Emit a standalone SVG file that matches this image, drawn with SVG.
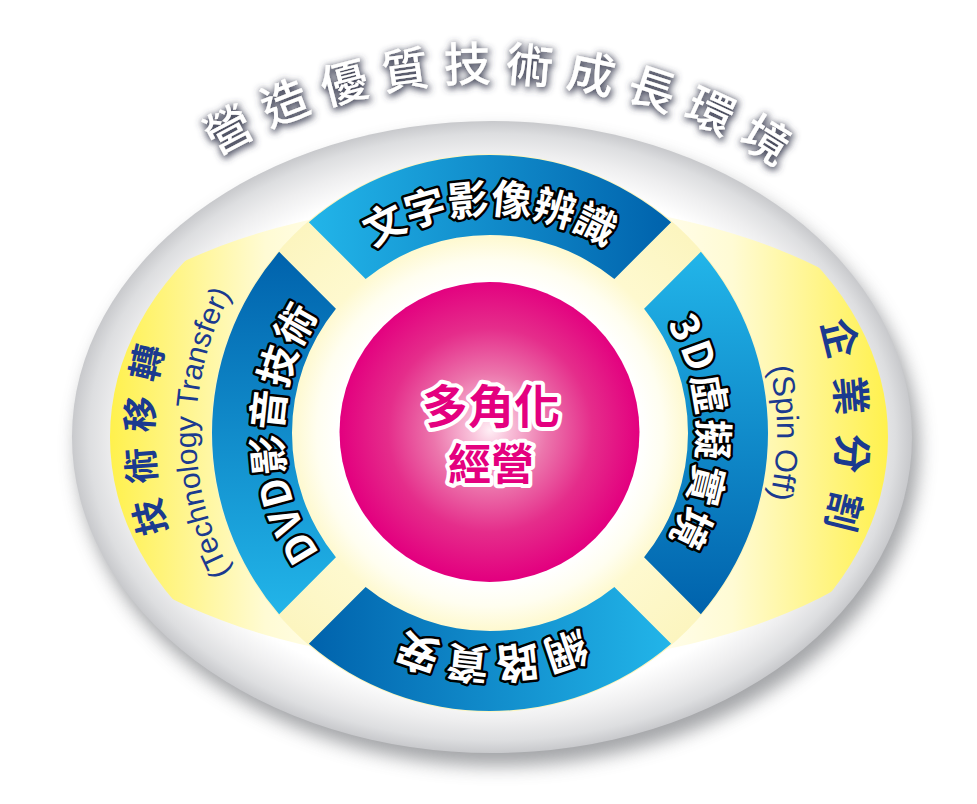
<svg xmlns="http://www.w3.org/2000/svg" width="977" height="804" viewBox="0 0 977 804">
<defs>
  <style>
    .seg { font-family: "Noto Sans CJK TC", "Liberation Sans", sans-serif; font-weight: 700; fill: #ffffff; stroke: #000000; stroke-width: 5; stroke-linejoin: round; paint-order: stroke; }
    .outer { font-family: "Noto Sans CJK TC", sans-serif; font-weight: 700; fill: #1b3a8f; }
    .eng { font-family: "Liberation Sans", Arial, sans-serif; fill: #1b3a8f; }
    .title { font-family: "Noto Sans CJK TC", sans-serif; font-weight: 500; fill: #ffffff; }
    .ctr { font-family: "Noto Sans CJK TC", sans-serif; font-weight: 700; fill: #e4007f; stroke: #ffffff; stroke-width: 8; stroke-linejoin: round; paint-order: stroke; }
  </style>
  <filter id="shadow" x="-10%" y="-10%" width="120%" height="120%">
    <feGaussianBlur stdDeviation="9"/>
  </filter>
  <filter id="tg" x="-10%" y="-40%" width="120%" height="180%">
    <feMorphology in="SourceAlpha" operator="dilate" radius="1" result="d"/>
    <feGaussianBlur in="d" stdDeviation="3.5" result="b"/>
    <feOffset in="b" dx="1" dy="2" result="o"/>
    <feFlood flood-color="#3f4256" flood-opacity="0.95"/>
    <feComposite in2="o" operator="in" result="s"/>
    <feMerge><feMergeNode in="s"/><feMergeNode in="SourceGraphic"/></feMerge>
  </filter>
  <radialGradient id="greyRing" cx="0.5" cy="0.5" r="0.5">
    <stop offset="0" stop-color="#ffffff"/>
    <stop offset="0.82" stop-color="#ffffff"/>
    <stop offset="0.9" stop-color="#eeeeef"/>
    <stop offset="0.96" stop-color="#dddee0"/>
    <stop offset="1" stop-color="#c8c9cc"/>
  </radialGradient>
  <linearGradient id="yel" gradientUnits="userSpaceOnUse" x1="110" y1="0" x2="888" y2="0">
    <stop offset="0" stop-color="#fff14d"/>
    <stop offset="0.09" stop-color="#fff58a"/>
    <stop offset="0.2" stop-color="#fffbd4"/>
    <stop offset="0.33" stop-color="#fffef4"/>
    <stop offset="0.5" stop-color="#ffffff"/>
    <stop offset="0.67" stop-color="#fffef4"/>
    <stop offset="0.8" stop-color="#fffbd4"/>
    <stop offset="0.91" stop-color="#fff58a"/>
    <stop offset="1" stop-color="#fff14d"/>
  </linearGradient>
  <clipPath id="lensClip"><ellipse cx="495" cy="433" rx="460" ry="233"/></clipPath>
  <radialGradient id="cream" gradientUnits="userSpaceOnUse" cx="490" cy="433" r="279">
    <stop offset="0" stop-color="#ffffff"/>
    <stop offset="0.54" stop-color="#ffffff"/>
    <stop offset="0.62" stop-color="#fffef0"/>
    <stop offset="0.71" stop-color="#fef9cf"/>
    <stop offset="1" stop-color="#fcf5bf"/>
  </radialGradient>
  <radialGradient id="mag" gradientUnits="userSpaceOnUse" cx="490" cy="430" r="150">
    <stop offset="0" stop-color="#fff0f6"/>
    <stop offset="0.12" stop-color="#f9c3db"/>
    <stop offset="0.38" stop-color="#ec75ac"/>
    <stop offset="0.68" stop-color="#e52d8b"/>
    <stop offset="1" stop-color="#e3007f"/>
  </radialGradient>
  <linearGradient id="gTop" gradientUnits="userSpaceOnUse" x1="309" y1="0" x2="671" y2="0">
    <stop offset="0" stop-color="#22b5e9"/><stop offset="1" stop-color="#0062ac"/>
  </linearGradient>
  <linearGradient id="gRight" gradientUnits="userSpaceOnUse" x1="0" y1="252" x2="0" y2="614">
    <stop offset="0" stop-color="#22b5e9"/><stop offset="1" stop-color="#0062ac"/>
  </linearGradient>
  <linearGradient id="gBottom" gradientUnits="userSpaceOnUse" x1="671" y1="0" x2="309" y2="0">
    <stop offset="0" stop-color="#22b5e9"/><stop offset="1" stop-color="#0062ac"/>
  </linearGradient>
  <linearGradient id="gLeft" gradientUnits="userSpaceOnUse" x1="0" y1="614" x2="0" y2="252">
    <stop offset="0" stop-color="#22b5e9"/><stop offset="1" stop-color="#0062ac"/>
  </linearGradient>
  <path id="pTitle" d="M -40 609 A 528 528 0 0 1 1016 609"/>
  <path id="pTop" d="M 271 433 A 219 219 0 0 1 709 433"/>
  <path id="pRight" d="M 490 225 A 208 208 0 0 1 490 641"/>
  <path id="pBottom" d="M 706 433 A 216 216 0 0 1 274 433"/>
  <path id="pLeft" d="M 490 641 A 208 208 0 0 1 490 225"/>
  <path id="pTT" d="M 490 770 A 337 337 0 0 1 490 96"/>
  <path id="pTTe" d="M 490 727 A 294 294 0 0 1 490 139"/>
  <path id="pSO" d="M 490 85 A 348 348 0 0 1 490 781"/>
  <path id="pSOe" d="M 490 146 A 287 287 0 0 1 490 720"/>
</defs>

<rect width="977" height="804" fill="#ffffff"/>

<g id="base">
  <ellipse cx="498" cy="449" rx="421" ry="317" fill="#85878b" opacity="0.75" filter="url(#shadow)"/>
  <ellipse cx="492" cy="437" rx="420" ry="316" fill="url(#greyRing)"/>
  <ellipse cx="499" cy="437" rx="389" ry="298" fill="url(#yel)" clip-path="url(#lensClip)"/>
  <circle cx="490" cy="433" r="279" fill="url(#cream)"/>
</g>

<g id="title">
  <text class="title" font-size="47" letter-spacing="13.5" filter="url(#tg)"><textPath href="#pTitle" startOffset="846" text-anchor="middle">營造優質技術成長環境</textPath></text>
</g>

<g id="seg-top">
  <path d="M 308.84 222.14 A 278 278 0 0 1 671.16 222.14 L 614.37 278.93 A 198 198 0 0 0 365.63 278.93 Z" fill="url(#gTop)"/>
  <text class="seg" font-size="41"><textPath href="#pTop" startOffset="50%" text-anchor="middle">文字影像辨識</textPath></text>
</g>

<g id="seg-right">
  <path d="M 700.86 251.84 A 278 278 0 0 1 700.86 614.16 L 644.07 557.37 A 198 198 0 0 0 644.07 308.63 Z" fill="url(#gRight)"/>
  <text class="seg" font-size="40" letter-spacing="3"><textPath href="#pRight" startOffset="50%" text-anchor="middle">3D虛擬實境</textPath></text>
</g>

<g id="seg-bottom">
  <path d="M 671.16 643.86 A 278 278 0 0 1 308.84 643.86 L 365.63 587.07 A 198 198 0 0 0 614.37 587.07 Z" fill="url(#gBottom)"/>
  <text class="seg" font-size="42" letter-spacing="5"><textPath href="#pBottom" startOffset="50%" text-anchor="middle">網路資安</textPath></text>
</g>

<g id="seg-left">
  <path d="M 279.14 614.16 A 278 278 0 0 1 279.14 251.84 L 335.93 308.63 A 198 198 0 0 0 335.93 557.37 Z" fill="url(#gLeft)"/>
  <text class="seg" font-size="40" letter-spacing="2"><textPath href="#pLeft" startOffset="50%" text-anchor="middle">DVD影音技術</textPath></text>
</g>

<g id="center">
  <circle cx="489.5" cy="432" r="150" fill="url(#mag)"/>
  <text class="ctr" x="491" y="423" font-size="46" text-anchor="middle">多角化</text>
  <text class="ctr" x="491" y="480" font-size="43" text-anchor="middle">經營</text>
</g>

<g id="tech-transfer">
  <text class="outer" font-size="36" letter-spacing="14"><textPath href="#pTT" startOffset="50%" text-anchor="middle">技術移轉</textPath></text>
  <text class="eng" font-size="30"><textPath href="#pTTe" startOffset="50%" text-anchor="middle">(Technology Transfer)</textPath></text>
</g>

<g id="spin-off">
  <text class="outer" font-size="39" letter-spacing="17"><textPath href="#pSO" startOffset="50%" text-anchor="middle">企業分割</textPath></text>
  <text class="eng" font-size="31"><textPath href="#pSOe" startOffset="50%" text-anchor="middle">(Spin Off)</textPath></text>
</g>

<g id="connectors"></g>
</svg>
